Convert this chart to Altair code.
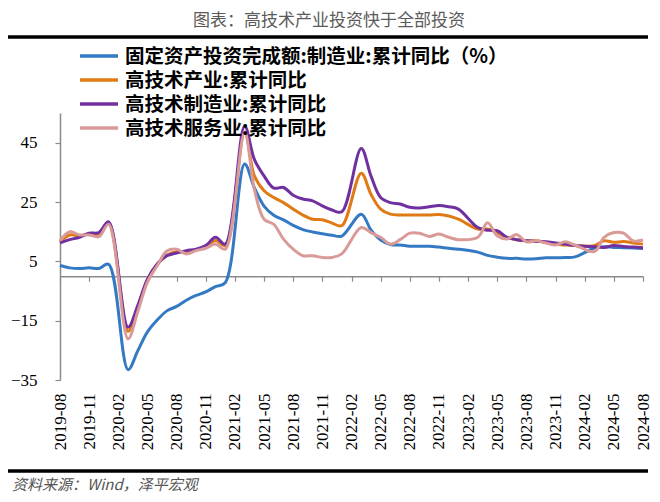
import json
import altair as alt
import pandas as pd

# ---- data (cumulative YoY %, monthly; January not published -> None) ----
tick_labels = ['2019-08', '2019-11', '2020-02', '2020-05', '2020-08', '2020-11',
               '2021-02', '2021-05', '2021-08', '2021-11', '2022-02', '2022-05',
               '2022-08', '2022-11', '2023-02', '2023-05', '2023-08', '2023-11',
               '2024-02', '2024-05', '2024-08']

series_names = ['固定资产投资完成额:制造业:累计同比（%）',
                '高技术产业:累计同比',
                '高技术制造业:累计同比',
                '高技术服务业:累计同比']
series_colors = ['#3479C4', '#E07A14', '#7030A0', '#D99A98']

mfg = [3.6, 2.8, 2.6, 2.8, 2.6, 4.0, None,
       -31.5, -25.2, -18.8, -14.8, -11.7, -10.2, -8.1, -6.5, -5.3, -3.5, -2.2, None,
       37.8, 29.8, 23.6, 20.5, 19.0, 17.1, 15.7, 14.9, 14.3, 13.8, 13.5, None,
       20.9, 15.6, 12.2, 10.7, 10.5, 10.1, 10.1, 10.1, 9.8, 9.4, 9.1, None,
       8.1, 7.0, 6.4, 6.0, 6.0, 5.8, 5.9, 6.2, 6.2, 6.3, 6.5, None,
       9.5, 9.9, 9.7, 9.6, 9.5, 9.3]

hitech = [11.6, 13.9, 13.6, 14.2, 14.2, 17.9, None,
          -18.6, -10.5, -1.3, 3.9, 7.0, 8.2, 8.0, 8.9, 9.7, 12.0, 10.3, None,
          48.5, 33.8, 28.8, 26.5, 24.8, 22.6, 20.6, 19.2, 19.0, 17.9, 17.0, None,
          34.7, 27.6, 22.6, 20.9, 20.6, 20.6, 20.6, 20.6, 20.8, 20.3, 19.2, None,
          15.9, 15.9, 14.7, 13.1, 12.3, 11.9, 11.9, 11.4, 10.8, 10.5, 10.3, None,
          10.3, 11.9, 11.4, 11.7, 11.2, 10.8]

hitech_mfg = [11.2, 12.3, 13.1, 14.5, 14.7, 18.3, None,
              -17.2, -9.9, -1.0, 4.1, 6.9, 7.8, 8.6, 9.1, 10.3, 13.1, 10.8, None,
              50.5, 39.4, 33.8, 29.7, 29.9, 27.3, 26.0, 25.4, 23.7, 22.3, 21.7, None,
              43.0, 33.8, 26.5, 24.8, 24.3, 23.2, 23.0, 23.4, 23.8, 23.4, 22.6, None,
              16.4, 15.5, 15.3, 13.1, 12.3, 11.9, 11.7, 11.6, 11.2, 10.8, 10.3, None,
              9.9, 9.7, 10.3, 10.0, 9.8, 9.6]

hitech_svc = [12.0, 15.0, 13.9, 13.9, 13.3, 17.5, None,
              -21.1, -12.0, -2.0, 3.5, 8.5, 9.1, 7.5, 8.6, 9.4, 10.8, 9.1, None,
              48.5, 29.3, 19.2, 17.5, 12.5, 9.1, 6.9, 6.9, 6.3, 6.3, 7.5, None,
              16.4, 14.7, 13.1, 10.8, 12.3, 14.5, 14.5, 13.4, 14.2, 13.1, 12.3, None,
              13.1, 18.0, 13.6, 12.5, 14.0, 11.6, 11.9, 11.2, 10.5, 11.6, 10.5, None,
              8.3, 13.1, 14.7, 14.5, 11.9, 12.2]

y_ticks = [-35, -15, 5, 25, 45]

rows = []
for name, vals in zip(series_names, [mfg, hitech, hitech_mfg, hitech_svc]):
    for i, v in enumerate(vals):
        if v is not None:
            rows.append({'i': i, 'v': v, 's': name})
df = pd.DataFrame(rows)

W, H = 583, 267
y_min, y_max = -35, 55
zero_from_bottom = H * (0 - y_min) / (y_max - y_min)

AXIS_GRAY = '#8a8a8a'

lines = alt.Chart(df).mark_line(strokeWidth=3, interpolate='catmull-rom').encode(
    x=alt.X('i:Q', scale=alt.Scale(domain=[0, 60], nice=False, zero=False),
            axis=alt.Axis(values=list(range(0, 61, 3)),
                          labelExpr=json.dumps(tick_labels, ensure_ascii=False) + '[round(datum.value/3)]',
                          labelAngle=270, labelFlush=False, labelOverlap=False, labelBound=False,
                          offset=-zero_from_bottom, tickSize=5, labelPadding=zero_from_bottom + 8,
                          domainColor=AXIS_GRAY, tickColor=AXIS_GRAY, domainWidth=1.5, tickWidth=1.2,
                          labelFont='Liberation Serif', labelFontSize=17, labelColor='black',
                          grid=False, title=None)),
    y=alt.Y('v:Q', scale=alt.Scale(domain=[y_min, y_max], nice=False, zero=False),
            axis=alt.Axis(values=y_ticks, tickSize=5, labelPadding=18,
                          domainColor=AXIS_GRAY, tickColor=AXIS_GRAY, domainWidth=1.5, tickWidth=1.2,
                          labelFont='Liberation Serif', labelFontSize=17, labelColor='black',
                          grid=False, title=None)),
    color=alt.Color('s:N', scale=alt.Scale(domain=series_names, range=series_colors), legend=None),
    order=alt.Order('i:Q')
)

layers = [lines]

# manual legend (compact rows like the reference)
one = pd.DataFrame({'a': [0]})
ROW0, ROW_STEP = -57, 24
for k, (name, col) in enumerate(zip(series_names, series_colors)):
    yk = ROW0 + ROW_STEP * k
    layers.append(alt.Chart(one).mark_rule(color=col, strokeWidth=3.5).encode(
        x=alt.value(20), x2=alt.value(58), y=alt.value(yk)))
    layers.append(alt.Chart(pd.DataFrame({'t': [name]})).mark_text(
        font='Noto Sans CJK SC', fontSize=19.5, fontWeight='bold', color='black',
        align='left', baseline='middle').encode(text='t:N', x=alt.value(65), y=alt.value(yk + 1)))

title = alt.Chart(pd.DataFrame({'t': ['图表：高技术产业投资快于全部投资']})).mark_text(
    font='Noto Sans CJK SC', fontSize=17, color='#5a5a5a', align='center', baseline='middle'
).encode(text='t:N', x=alt.value(269), y=alt.value(-92))

top_rule = alt.Chart(one).mark_rule(color='black', strokeWidth=3.5).encode(
    x=alt.value(-52), x2=alt.value(588), y=alt.value(-76))
bottom_rule = alt.Chart(one).mark_rule(color='black', strokeWidth=3.5).encode(
    x=alt.value(-52), x2=alt.value(588), y=alt.value(358))

source = alt.Chart(pd.DataFrame({'t': ['资料来源：Wind，泽平宏观']})).mark_text(
    font='Noto Sans CJK SC', fontSize=15, fontStyle='italic', color='#555555',
    align='left', baseline='middle'
).encode(text='t:N', x=alt.value(-48), y=alt.value(372))

layers += [title, top_rule, bottom_rule, source]

chart = alt.layer(*layers).properties(
    width=W, height=H,
    autosize=alt.AutoSizeParams(type='none'),
    padding={'left': 52, 'top': 105, 'right': 9, 'bottom': 114}
).configure_view(stroke=None)

chart.save('out.html', embed_options={'renderer': 'svg', 'actions': False})
